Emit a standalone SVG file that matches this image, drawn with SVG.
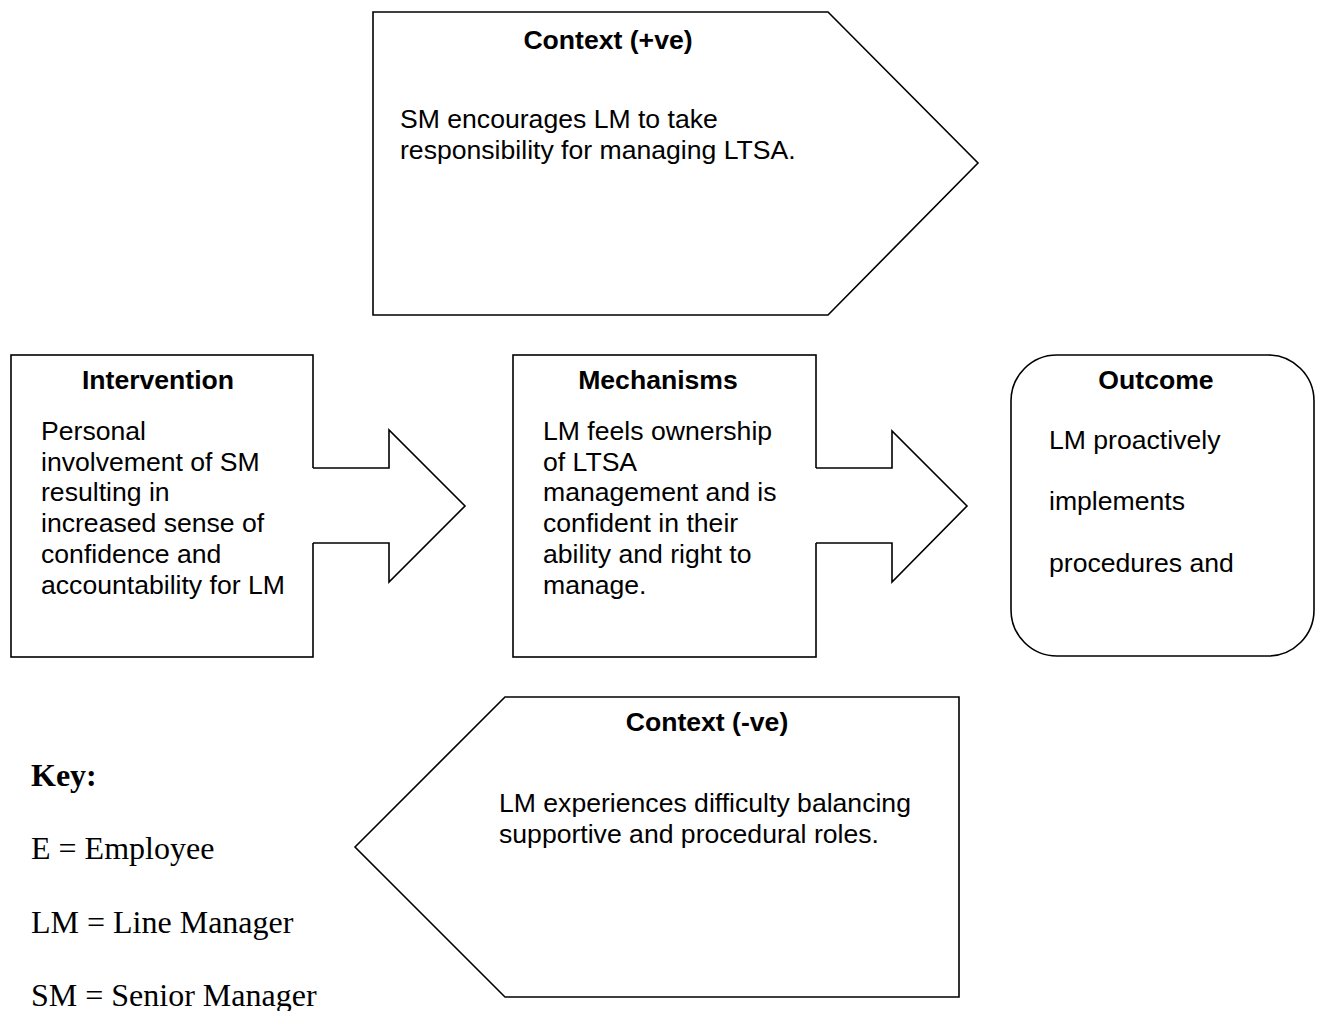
<svg xmlns="http://www.w3.org/2000/svg" width="1318" height="1011" viewBox="0 0 1318 1011">
<style>
.shape{fill:#fff;stroke:#000;stroke-width:1.6}
.edge{fill:none;stroke:#000;stroke-width:1.6;stroke-linejoin:miter}
.fillonly{fill:#fff;stroke:none}
.title{font-family:"Liberation Sans",Arial,sans-serif;font-size:26.6px;font-weight:bold;fill:#000;text-anchor:middle}
.body{font-family:"Liberation Sans",Arial,sans-serif;font-size:26.6px;fill:#000}
.key{font-family:"Liberation Serif","Times New Roman",serif;font-size:32px;fill:#000}
</style>
<rect width="1318" height="1011" fill="#fff"/>
<g id="context-positive">
<polygon class="shape" points="373,12 828,12 978,163 828,315 373,315"/>
<text class="title" x="608" y="49">Context (+ve)</text>
<text class="body" x="400" y="128">SM encourages LM to take</text>
<text class="body" x="400" y="159">responsibility for managing LTSA.</text>
</g>
<g id="intervention">
<rect class="shape" x="11" y="355" width="302" height="302"/>
<text class="title" x="158" y="389">Intervention</text>
<text class="body" x="41" y="440">Personal</text>
<text class="body" x="41" y="471">involvement of SM</text>
<text class="body" x="41" y="501">resulting in</text>
<text class="body" x="41" y="532">increased sense of</text>
<text class="body" x="41" y="563">confidence and</text>
<text class="body" x="41" y="594">accountability for LM</text>
</g>
<g id="mechanisms">
<rect class="shape" x="513" y="355" width="303" height="302"/>
<text class="title" x="658" y="389">Mechanisms</text>
<text class="body" x="543" y="440">LM feels ownership</text>
<text class="body" x="543" y="471">of LTSA</text>
<text class="body" x="543" y="501">management and is</text>
<text class="body" x="543" y="532">confident in their</text>
<text class="body" x="543" y="563">ability and right to</text>
<text class="body" x="543" y="594">manage.</text>
</g>
<g id="outcome">
<rect class="shape" x="1011" y="355" width="303" height="301" rx="46" ry="46"/>
<text class="title" x="1156" y="389">Outcome</text>
<text class="body" x="1049" y="449">LM proactively</text>
<text class="body" x="1049" y="510">implements</text>
<text class="body" x="1049" y="572">procedures and</text>
</g>
<g id="context-negative">
<polygon class="shape" points="355,847 505,697 959,697 959,997 505,997"/>
<text class="title" x="707" y="731">Context (-ve)</text>
<text class="body" x="499" y="812">LM experiences difficulty balancing</text>
<text class="body" x="499" y="843">supportive and procedural roles.</text>
</g>
<g id="connectors">
<polygon class="fillonly" points="311,468 389,468 389,430 465,506 389,582 389,543 311,543"/>
<polyline class="edge" points="313,468 389,468 389,430 465,506 389,582 389,543 313,543"/>
<polygon class="fillonly" points="814,468 892,468 892,431 967,506 892,582 892,543 814,543"/>
<polyline class="edge" points="816,468 892,468 892,431 967,506 892,582 892,543 816,543"/>
</g>
<g id="key">
<text class="key" x="31" y="786" font-weight="bold">Key:</text>
<text class="key" x="31" y="859">E = Employee</text>
<text class="key" x="31" y="933">LM = Line Manager</text>
<text class="key" x="31" y="1006">SM = Senior Manager</text>
</g>
</svg>
